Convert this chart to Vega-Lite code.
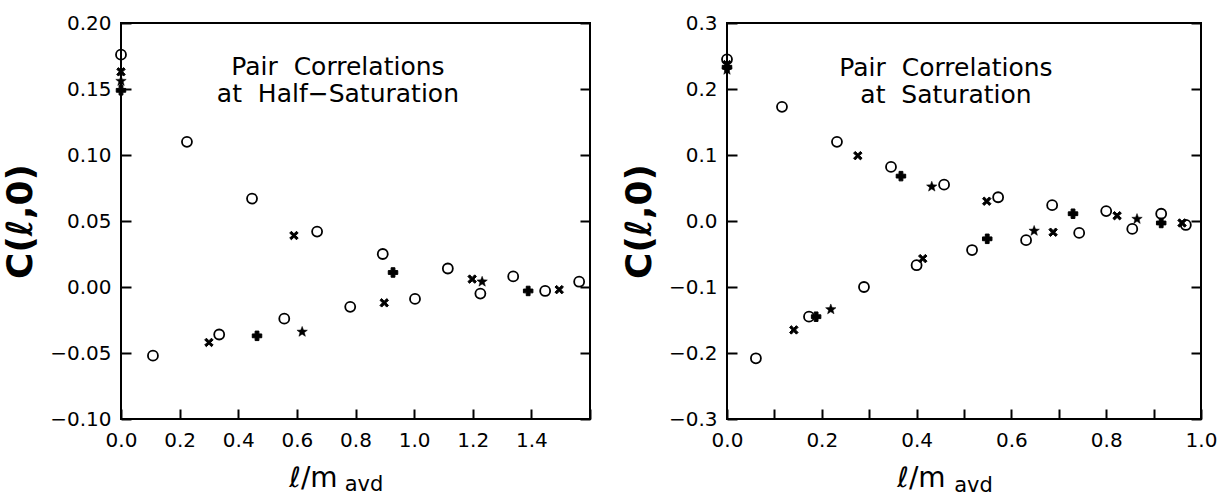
{
  "$schema": "https://vega.github.io/schema/vega-lite/v6.json",
  "padding": {"left": 1, "top": 12, "right": 5, "bottom": 0},
  "background": "white",
  "datasets": {
    "left": [
      {"x": 0, "y": 0.176, "series": "circle"},
      {"x": 0.109, "y": -0.052, "series": "circle"},
      {"x": 0.225, "y": 0.110, "series": "circle"},
      {"x": 0.335, "y": -0.036, "series": "circle"},
      {"x": 0.447, "y": 0.067, "series": "circle"},
      {"x": 0.557, "y": -0.024, "series": "circle"},
      {"x": 0.669, "y": 0.042, "series": "circle"},
      {"x": 0.782, "y": -0.015, "series": "circle"},
      {"x": 0.893, "y": 0.025, "series": "circle"},
      {"x": 1.003, "y": -0.009, "series": "circle"},
      {"x": 1.115, "y": 0.014, "series": "circle"},
      {"x": 1.226, "y": -0.005, "series": "circle"},
      {"x": 1.338, "y": 0.008, "series": "circle"},
      {"x": 1.447, "y": -0.003, "series": "circle"},
      {"x": 1.563, "y": 0.004, "series": "circle"},
      {"x": 0, "y": 0.163, "series": "cross"},
      {"x": 0.300, "y": -0.042, "series": "cross"},
      {"x": 0.590, "y": 0.039, "series": "cross"},
      {"x": 0.898, "y": -0.012, "series": "cross"},
      {"x": 1.198, "y": 0.006, "series": "cross"},
      {"x": 1.495, "y": -0.002, "series": "cross"},
      {"x": 0, "y": 0.149, "series": "plus"},
      {"x": 0.464, "y": -0.037, "series": "plus"},
      {"x": 0.928, "y": 0.011, "series": "plus"},
      {"x": 1.389, "y": -0.003, "series": "plus"},
      {"x": 0, "y": 0.156, "series": "star"},
      {"x": 0.618, "y": -0.034, "series": "star"},
      {"x": 1.232, "y": 0.004, "series": "star"}
    ],
    "right": [
      {"x": 0, "y": 0.245, "series": "circle"},
      {"x": 0.061, "y": -0.208, "series": "circle"},
      {"x": 0.116, "y": 0.173, "series": "circle"},
      {"x": 0.173, "y": -0.145, "series": "circle"},
      {"x": 0.232, "y": 0.120, "series": "circle"},
      {"x": 0.289, "y": -0.100, "series": "circle"},
      {"x": 0.346, "y": 0.082, "series": "circle"},
      {"x": 0.400, "y": -0.067, "series": "circle"},
      {"x": 0.458, "y": 0.055, "series": "circle"},
      {"x": 0.517, "y": -0.044, "series": "circle"},
      {"x": 0.572, "y": 0.036, "series": "circle"},
      {"x": 0.631, "y": -0.029, "series": "circle"},
      {"x": 0.686, "y": 0.024, "series": "circle"},
      {"x": 0.743, "y": -0.018, "series": "circle"},
      {"x": 0.800, "y": 0.015, "series": "circle"},
      {"x": 0.855, "y": -0.012, "series": "circle"},
      {"x": 0.916, "y": 0.011, "series": "circle"},
      {"x": 0.968, "y": -0.006, "series": "circle"},
      {"x": 0, "y": 0.237, "series": "cross"},
      {"x": 0.141, "y": -0.165, "series": "cross"},
      {"x": 0.276, "y": 0.099, "series": "cross"},
      {"x": 0.413, "y": -0.057, "series": "cross"},
      {"x": 0.548, "y": 0.030, "series": "cross"},
      {"x": 0.688, "y": -0.017, "series": "cross"},
      {"x": 0.823, "y": 0.008, "series": "cross"},
      {"x": 0.960, "y": -0.003, "series": "cross"},
      {"x": 0, "y": 0.233, "series": "plus"},
      {"x": 0.188, "y": -0.145, "series": "plus"},
      {"x": 0.367, "y": 0.068, "series": "plus"},
      {"x": 0.549, "y": -0.027, "series": "plus"},
      {"x": 0.730, "y": 0.011, "series": "plus"},
      {"x": 0.916, "y": -0.003, "series": "plus"},
      {"x": 0, "y": 0.229, "series": "star"},
      {"x": 0.219, "y": -0.134, "series": "star"},
      {"x": 0.432, "y": 0.052, "series": "star"},
      {"x": 0.648, "y": -0.015, "series": "star"},
      {"x": 0.865, "y": 0.003, "series": "star"}
    ]
  },
  "spacing": 28,
  "hconcat": [
    {
      "width": 469,
      "height": 396,
      "resolve": {"axis": {"x": "independent", "y": "independent"}},
      "layer": [
        {
          "layer": [
            {
              "data": {"name": "left"},
              "mark": {"type": "point", "filled": true, "opacity": 1, "stroke": "black"},
              "encoding": {
                "x": {"field": "x", "type": "quantitative",
                  "scale": {"domain": [0, 1.6], "nice": false, "zero": false},
                  "axis": {"orient": "bottom", "values": [0, 0.2, 0.4, 0.6, 0.8, 1.0, 1.2, 1.4, 1.6], "labels": false, "title": null}},
                "y": {"field": "y", "type": "quantitative",
                  "scale": {"domain": [-0.1, 0.2], "nice": false, "zero": false},
                  "axis": {"orient": "right", "values": [-0.1, -0.05, 0, 0.05, 0.1, 0.15, 0.2], "labels": false, "title": null}},
                "shape": {"field": "series", "type": "nominal", "legend": null,
                  "scale": {"domain": ["circle", "cross", "plus", "star"],
                    "range": ["circle", "M-1,-0.6L-0.6,-1L0,-0.4L0.6,-1L1,-0.6L0.4,0L1,0.6L0.6,1L0,0.4L-0.6,1L-1,0.6L-0.4,0Z", "cross", "M0,-1L0.247,-0.34L0.951,-0.309L0.399,0.13L0.588,0.809L0,0.42L-0.588,0.809L-0.399,0.13L-0.951,-0.309L-0.247,-0.34Z"]}},
                "fill": {"field": "series", "type": "nominal", "legend": null,
                  "scale": {"domain": ["circle", "cross", "plus", "star"], "range": ["transparent", "black", "black", "black"]}},
                "size": {"field": "series", "type": "nominal", "legend": null,
                  "scale": {"type": "ordinal", "domain": ["circle", "cross", "plus", "star"], "range": [100, 72, 90, 120]}},
                "strokeWidth": {"field": "series", "type": "nominal", "legend": null,
                  "scale": {"type": "ordinal", "domain": ["circle", "cross", "plus", "star"], "range": [1.8, 1, 1, 0.5]}}
              }
            },
            {
              "data": {"values": [{"note": "Pair\u00a0 Correlations\nat\u00a0 Half\u2212Saturation"}]},
              "mark": {"type": "text", "fontSize": 25, "lineHeight": 27, "lineBreak": "\n", "align": "center", "baseline": "middle", "color": "black", "font": "DejaVu Sans"},
              "encoding": {
                "text": {"field": "note", "type": "nominal"},
                "x": {"datum": 0.74, "type": "quantitative", "scale": {"domain": [0, 1.6], "nice": false, "zero": false}},
                "y": {"datum": 0.1663, "type": "quantitative", "scale": {"domain": [-0.1, 0.2], "nice": false, "zero": false}}
              }
            },
            {
              "data": {"values": [{"sub": "avd"}]},
              "mark": {"type": "text", "fontSize": 21, "align": "center", "baseline": "middle", "color": "black", "font": "DejaVu Sans", "clip": false},
              "encoding": {
                "text": {"field": "sub", "type": "nominal"},
                "x": {"datum": 0.829, "type": "quantitative", "scale": {"domain": [0, 1.6], "nice": false, "zero": false}},
                "y": {"datum": -0.150, "type": "quantitative", "scale": {"domain": [-0.1, 0.2], "nice": false, "zero": false}}
              }
            }
          ]
        },
        {
          "mark": {"type": "rule", "color": "black", "strokeWidth": 1.8},
          "encoding": {
            "x": {"datum": 0, "type": "quantitative",
              "scale": {"domain": [0, 1.6], "nice": false, "zero": false},
              "axis": {"orient": "bottom", "values": [0, 0.2, 0.4, 0.6, 0.8, 1.0, 1.2, 1.4, 1.6], "ticks": false,
                "labelExpr": "datum.value > 1.5 ? '' : format(datum.value, '.1f')",
                "labelPadding": 11, "title": "ℓ/m", "titleX": 192, "titleY": 67, "titleAlign": "center", "titleBaseline": "alphabetic",
                "titleFontSize": 28, "titleFontWeight": "normal"}},
            "x2": {"datum": 1.6},
            "y": {"datum": 0, "type": "quantitative",
              "scale": {"domain": [-0.1, 0.2], "nice": false, "zero": false},
              "axis": {"orient": "left", "values": [-0.1, -0.05, 0, 0.05, 0.1, 0.15, 0.2], "format": ".2f", "ticks": false,
                "labelPadding": 10, "title": "C(ℓ,0)", "titleFontSize": 36, "titleFontWeight": "bold", "titlePadding": 10}}
          }
        },
        {
          "mark": {"type": "rule", "color": "black", "strokeWidth": 1.8},
          "encoding": {
            "y": {"datum": 0, "type": "quantitative",
              "scale": {"domain": [-0.1, 0.2], "nice": false, "zero": false},
              "axis": {"orient": "left", "values": [-0.1, -0.05, 0, 0.05, 0.1, 0.15, 0.2], "labels": false, "title": null}}
          }
        }
      ]
    },
    {
      "width": 474,
      "height": 396,
      "resolve": {"axis": {"x": "independent", "y": "independent"}},
      "layer": [
        {
          "layer": [
            {
              "data": {"name": "right"},
              "mark": {"type": "point", "filled": true, "opacity": 1, "stroke": "black"},
              "encoding": {
                "x": {"field": "x", "type": "quantitative",
                  "scale": {"domain": [0, 1.0], "nice": false, "zero": false},
                  "axis": {"orient": "bottom", "values": [0, 0.1, 0.2, 0.3, 0.4, 0.5, 0.6, 0.7, 0.8, 0.9, 1.0], "labels": false, "title": null}},
                "y": {"field": "y", "type": "quantitative",
                  "scale": {"domain": [-0.3, 0.3], "nice": false, "zero": false},
                  "axis": {"orient": "right", "values": [-0.3, -0.2, -0.1, 0, 0.1, 0.2, 0.3], "labels": false, "title": null}},
                "shape": {"field": "series", "type": "nominal", "legend": null,
                  "scale": {"domain": ["circle", "cross", "plus", "star"],
                    "range": ["circle", "M-1,-0.6L-0.6,-1L0,-0.4L0.6,-1L1,-0.6L0.4,0L1,0.6L0.6,1L0,0.4L-0.6,1L-1,0.6L-0.4,0Z", "cross", "M0,-1L0.247,-0.34L0.951,-0.309L0.399,0.13L0.588,0.809L0,0.42L-0.588,0.809L-0.399,0.13L-0.951,-0.309L-0.247,-0.34Z"]}},
                "fill": {"field": "series", "type": "nominal", "legend": null,
                  "scale": {"domain": ["circle", "cross", "plus", "star"], "range": ["transparent", "black", "black", "black"]}},
                "size": {"field": "series", "type": "nominal", "legend": null,
                  "scale": {"type": "ordinal", "domain": ["circle", "cross", "plus", "star"], "range": [100, 72, 90, 120]}},
                "strokeWidth": {"field": "series", "type": "nominal", "legend": null,
                  "scale": {"type": "ordinal", "domain": ["circle", "cross", "plus", "star"], "range": [1.8, 1, 1, 0.5]}}
              }
            },
            {
              "data": {"values": [{"note": "Pair\u00a0 Correlations\nat\u00a0 Saturation"}]},
              "mark": {"type": "text", "fontSize": 25, "lineHeight": 27, "lineBreak": "\n", "align": "center", "baseline": "middle", "color": "black", "font": "DejaVu Sans"},
              "encoding": {
                "text": {"field": "note", "type": "nominal"},
                "x": {"datum": 0.462, "type": "quantitative", "scale": {"domain": [0, 1.0], "nice": false, "zero": false}},
                "y": {"datum": 0.2315, "type": "quantitative", "scale": {"domain": [-0.3, 0.3], "nice": false, "zero": false}}
              }
            },
            {
              "data": {"values": [{"sub": "avd"}]},
              "mark": {"type": "text", "fontSize": 21, "align": "center", "baseline": "middle", "color": "black", "font": "DejaVu Sans", "clip": false},
              "encoding": {
                "text": {"field": "sub", "type": "nominal"},
                "x": {"datum": 0.52, "type": "quantitative", "scale": {"domain": [0, 1.0], "nice": false, "zero": false}},
                "y": {"datum": -0.4015, "type": "quantitative", "scale": {"domain": [-0.3, 0.3], "nice": false, "zero": false}}
              }
            }
          ]
        },
        {
          "mark": {"type": "rule", "color": "black", "strokeWidth": 1.8},
          "encoding": {
            "x": {"datum": 0, "type": "quantitative",
              "scale": {"domain": [0, 1.0], "nice": false, "zero": false},
              "axis": {"orient": "bottom", "values": [0, 0.1, 0.2, 0.3, 0.4, 0.5, 0.6, 0.7, 0.8, 0.9, 1.0], "ticks": false,
                "labelExpr": "round(datum.value * 10) % 2 == 0 ? format(datum.value, '.1f') : ''",
                "labelPadding": 11, "title": "ℓ/m", "titleX": 194, "titleY": 67, "titleAlign": "center", "titleBaseline": "alphabetic",
                "titleFontSize": 28, "titleFontWeight": "normal"}},
            "x2": {"datum": 1.0},
            "y": {"datum": 0, "type": "quantitative",
              "scale": {"domain": [-0.3, 0.3], "nice": false, "zero": false},
              "axis": {"orient": "left", "values": [-0.3, -0.2, -0.1, 0, 0.1, 0.2, 0.3], "format": ".1f", "ticks": false,
                "labelPadding": 10, "title": "C(ℓ,0)", "titleFontSize": 36, "titleFontWeight": "bold", "titlePadding": 10}}
          }
        },
        {
          "mark": {"type": "rule", "color": "black", "strokeWidth": 1.8},
          "encoding": {
            "y": {"datum": 0, "type": "quantitative",
              "scale": {"domain": [-0.3, 0.3], "nice": false, "zero": false},
              "axis": {"orient": "left", "values": [-0.3, -0.2, -0.1, 0, 0.1, 0.2, 0.3], "labels": false, "title": null}}
          }
        }
      ]
    }
  ],
  "config": {
    "font": "DejaVu Sans",
    "view": {"stroke": "black", "strokeWidth": 2},
    "axis": {
      "grid": false, "zindex": 1, "domain": false,
      "domainColor": "black", "domainWidth": 2,
      "tickColor": "black", "tickWidth": 2, "tickSize": -10,
      "labelFont": "DejaVu Sans", "labelFontSize": 20, "labelColor": "black",
      "labelFlush": false, "labelOverlap": false,
      "titleFont": "DejaVu Sans", "titleColor": "black"
    }
  }
}
